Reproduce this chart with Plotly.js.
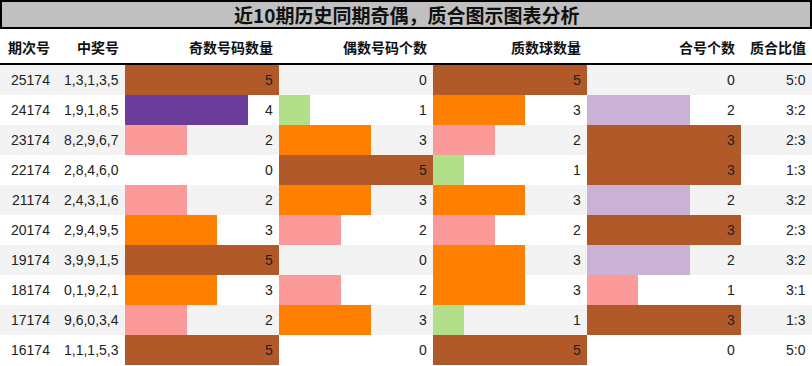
<!DOCTYPE html>
<html>
<head>
<meta charset="utf-8">
<script src="https://cdn.plot.ly/plotly-3.0.1.min.js"></script>
<style>html,body{margin:0;padding:0;background:#fff;}#chart{width:812px;height:366px;}</style>
</head>
<body>
<div id="chart"></div>
<script>
// ---- data ----
const titleText = '近10期历史同期奇偶，质合图示图表分析';
const headers = ['期次号', '中奖号', '奇数号码数量', '偶数号码个数', '质数球数量', '合号个数', '质合比值'];
const periods = ['25174', '24174', '23174', '22174', '21174', '20174', '19174', '18174', '17174', '16174'];
const winNumbers = ['1,3,1,3,5', '1,9,1,8,5', '8,2,9,6,7', '2,8,4,6,0', '2,4,3,1,6', '2,9,4,9,5', '3,9,9,1,5', '0,1,9,2,1', '9,6,0,3,4', '1,1,1,5,3'];
const oddCount = [5, 4, 2, 0, 2, 3, 5, 3, 2, 5];
const evenCount = [0, 1, 3, 5, 3, 2, 0, 2, 3, 0];
const primeCount = [5, 3, 2, 1, 3, 2, 3, 3, 1, 5];
const compositeCount = [0, 2, 3, 3, 2, 3, 2, 1, 3, 0];
const ratios = ['5:0', '3:2', '2:3', '1:3', '3:2', '2:3', '3:2', '3:1', '1:3', '5:0'];

// ---- styling ----
const W = 812, H = 366;
const colEdges = [0, 56, 125, 279, 433, 587, 741, 812];   // px column boundaries
const pad = 6;
const rowTop = 65, rowBottom = 365, headerY = 47, titleBottom = 28, headerLine = 64;
const py = p => 1 - p / H;
const px = p => p / W;
const colors5 = {5: '#b15928', 4: '#6a3d9a', 3: '#ff7f00', 2: '#fb9a99', 1: '#b2df8a', 0: '#ffffff'};
const colors3 = {3: '#b15928', 2: '#cab2d6', 1: '#fb9a99', 0: '#ffffff'};
const textColor = '#222222';
const numFont = {family: 'Liberation Sans, Arial, sans-serif', size: 14, color: textColor};
const cjkBold = 'Noto Sans CJK SC, sans-serif';

const rows = periods.map((_, i) => i);
const barCols = [
  {vals: oddCount, max: 5, cmap: colors5, ax: 'x'},
  {vals: evenCount, max: 5, cmap: colors5, ax: 'x2'},
  {vals: primeCount, max: 5, cmap: colors5, ax: 'x3'},
  {vals: compositeCount, max: 3, cmap: colors3, ax: 'x4'}
];

const traces = barCols.map(c => ({
  type: 'bar', orientation: 'h',
  x: c.vals, y: rows, width: 1,
  xaxis: c.ax, yaxis: 'y',
  marker: {color: c.vals.map(v => c.cmap[v]), line: {width: 0}},
  hoverinfo: 'skip', showlegend: false
}));

const layout = {
  width: W, height: H,
  margin: {l: 0, r: 0, t: 0, b: 0},
  paper_bgcolor: '#ffffff', plot_bgcolor: 'rgba(0,0,0,0)',
  bargap: 0, showlegend: false,
  yaxis: {domain: [py(rowBottom), py(rowTop)], range: [rows.length - 0.5, -0.5],
          visible: false, fixedrange: true},
  shapes: [], annotations: []
};
barCols.forEach((c, k) => {
  const name = k === 0 ? 'xaxis' : 'xaxis' + (k + 1);
  layout[name] = {domain: [px(colEdges[k + 2]), px(colEdges[k + 3])], range: [0, c.max],
                  anchor: 'y', visible: false, fixedrange: true};
});

// row backgrounds
rows.forEach(i => {
  if (i % 2 === 0) {
    layout.shapes.push({type: 'rect', layer: 'below', xref: 'paper', yref: 'y',
      x0: 0, x1: 1, y0: i - 0.5, y1: i + 0.5, fillcolor: '#f3f3f3', line: {width: 0}});
  }
});
// title box and header line
layout.shapes.push({type: 'rect', layer: 'below', xref: 'paper', yref: 'paper',
  x0: px(1), x1: px(W - 1), y0: py(titleBottom), y1: py(1),
  fillcolor: '#c0c0c0', line: {color: '#000000', width: 2}});
layout.shapes.push({type: 'line', xref: 'paper', yref: 'paper',
  x0: 0, x1: 1, y0: py(headerLine), y1: py(headerLine), line: {color: '#000000', width: 2}});

// title
layout.annotations.push({text: '<b>' + titleText + '</b>', xref: 'paper', yref: 'paper',
  x: 0.5, y: py(14), xanchor: 'center', yanchor: 'middle', showarrow: false,
  font: {family: cjkBold, size: 19, color: '#111111'}});

// headers
const headerRight = [1, 2, 3, 4, 5, 6, 7].map(k => colEdges[k] - pad);
headers.forEach((h, k) => {
  layout.annotations.push({text: '<b>' + h + '</b>', xref: 'paper', yref: 'paper',
    x: px(headerRight[k]), y: py(headerY), xanchor: 'right', yanchor: 'middle',
    xshift: 2, showarrow: false, font: {family: cjkBold, size: 14, color: '#111111'}});
});

// text columns
const textCols = [{vals: periods, k: 0}, {vals: winNumbers, k: 1}, {vals: ratios, k: 6}];
textCols.forEach(tc => {
  tc.vals.forEach((t, i) => {
    layout.annotations.push({text: t, xref: 'paper', yref: 'y', x: px(headerRight[tc.k]), y: i,
      xanchor: 'right', yanchor: 'middle', xshift: 2, showarrow: false, font: numFont});
  });
});
// bar value labels
barCols.forEach(c => {
  c.vals.forEach((v, i) => {
    layout.annotations.push({text: String(v), xref: c.ax, yref: 'y', x: c.max, y: i,
      xanchor: 'right', yanchor: 'middle', xshift: -pad + 2, showarrow: false, font: numFont});
  });
});

Plotly.newPlot('chart', traces, layout, {staticPlot: true, displayModeBar: false});
</script>
</body>
</html>
